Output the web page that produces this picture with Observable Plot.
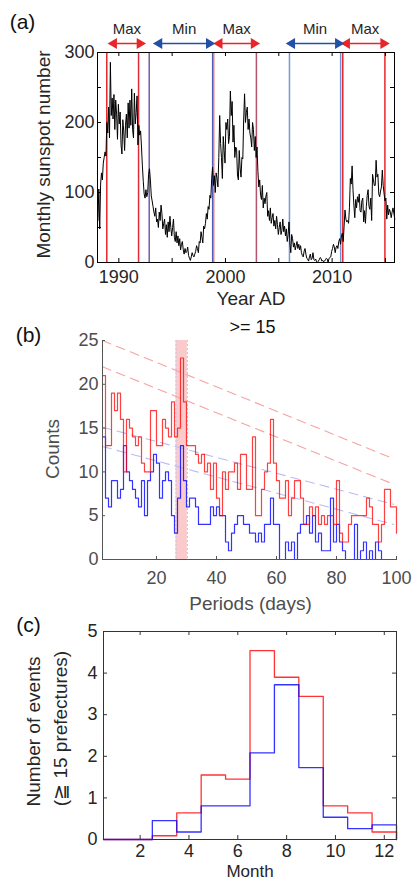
<!DOCTYPE html>
<html><head><meta charset="utf-8">
<script src="https://cdn.jsdelivr.net/npm/d3@7"></script>
<script src="https://cdn.jsdelivr.net/npm/@observablehq/plot@0.6"></script>
<style>
body{margin:0;background:#fff;width:418px;height:882px;overflow:hidden;position:relative}
.panel{position:absolute;left:0;width:418px}
.panel svg{overflow:visible;display:block}
</style></head><body>
<div id="pa" class="panel" style="top:0px"></div>
<div id="pb" class="panel" style="top:312px"></div>
<div id="pc" class="panel" style="top:612px"></div>
<script>
// ---------------- DATA ----------------
// (a) monthly sunspot number, Jan 1988 onward
const startYear = 1988;
const monthlySunspot = [
  60,105,48,112,128,118,142,150,158,152,200,185,      // 1988
  222,178,286,210,235,205,240,190,232,212,176,226,    // 1989
  198,215,168,155,204,188,160,196,212,178,228,192,    // 1990
  232,196,248,190,178,242,198,214,238,168,196,182,    // 1991
  188,165,138,116,98,92,104,94,100,126,134,118,       // 1992
  95,88,80,72,66,78,58,62,50,72,60,82,                // 1993
  70,48,56,62,40,54,36,58,44,66,50,38,                // 1994
  50,62,36,30,44,28,38,24,34,18,26,30,                // 1995
  18,12,20,14,16,22,10,6,3,8,14,10,                   // 1996
  8,12,16,24,20,14,30,28,44,36,28,52,                 // 1997
  48,56,70,62,80,76,96,92,120,136,110,124,            // 1998
  100,128,120,108,150,210,170,150,120,180,160,142,    // 1999
  200,190,205,170,180,245,210,230,172,196,150,165,    // 2000
  162,125,118,160,135,122,150,148,205,241,200,214,    // 2001
  222,190,205,185,178,165,200,190,160,180,150,165,    // 2002
  130,108,118,96,90,110,78,92,84,95,100,66,           // 2003
  74,60,78,56,64,70,52,60,48,66,54,40,                // 2004
  50,58,40,46,62,44,52,38,48,30,40,58,                // 2005
  28,14,40,34,22,28,18,24,30,20,26,18,                // 2006
  24,14,10,8,16,20,12,6,5,2,8,12,                     // 2007
  4,6,14,4,3,5,1,0,2,4,7,6,                           // 2008
  2,3,1,2,4,6,5,0,6,7,8,16,                           // 2009
  20,26,22,14,22,24,20,30,34,26,38,42,                // 2010
  30,52,75,62,58,60,56,78,120,112,138,104,            // 2011
  82,64,90,78,94,86,98,74,72,88,92,58,                // 2012
  74,56,80,96,104,80,76,92,60,126,118,110,            // 2013
  110,146,122,126,98,94,102,108,132,110,98,88,        // 2014
  92,62,82,68,76,72,64,72,78,70,62                    // 2015
];
const boundaryYears = [1988.87, 1991.85, 1992.85, 1998.80, 1998.90, 2002.90, 2006.00, 2010.80, 2011.00, 2014.95];
const phaseLabels = ["Max", "Min", "Max", "Min", "Max"];
const phaseStart  = [1989.25, 1993.50, 1999.15, 2005.95, 2011.10];
const phaseEnd    = [1992.25, 1998.75, 2002.95, 2010.85, 2015.10];
const yearTicks = [1990, 1995, 2000, 2005, 2010, 2015];
const yearLabels = [1990, 2000, 2010];
const sunTicks = [0, 50, 100, 150, 200, 250, 300];
const sunLabels = [0, 100, 200, 300];

// (b) period histogram counts (periods 2..100 days)
const periods = d3.range(2, 101);
const countsRed = [
  21,13,13,19,17,19,16,10,16,15,14,13,14,11,10,10,17,17,13,        // 2-20
  13,16,15,14,18,14,15,23,18,13,13,13,12,11,12,10,11,8,11,         // 21-39
  7,5,10,8,10,10,11,8,12,12,8,8,14,5,5,8,10,11,16,11,              // 40-59
  9,7,7,9,5,7,9,9,7,4,4,6,5,6,4,5,4,5,5,4,                        // 60-79
  9,3,2,2,4,5,5,5,5,5,7,6,4,4,2,4,8,8,6,6,3                       // 80-100
];
const countsBlue = [
  14,7,6,9,9,7,8,13,10,9,8,7,6,9,5,9,10,12,11,                    // 2-20
  7,9,10,9,5,3,7,13,9,6,7,7,6,4,4,4,4,6,5,                         // 21-39
  6,5,5,2,1,3,4,5,5,4,4,3,3,2,3,2,4,4,7,4,                         // 40-59
  4,0,0,2,1,2,0,3,4,4,5,3,5,2,3,1,1,1,7,2,                         // 60-79
  4,2,1,0,0,0,4,0,1,2,0,1,0,2,1,0,0,0,0,0,0                        // 80-100
];
const periodTicks = [20, 40, 60, 80, 100];
const countTicks = [0, 5, 10, 15, 20, 25];
const band = [26.5, 30.3];
const sigRedHigh  = [25.0, 11.5];   // at periods 2 and 99
const sigRedLow   = [22.0, 8.6];
const sigBlueHigh = [15.1, 6.3];
const sigBlueLow  = [12.9, 4.0];
const sigPeriods  = [2, 99];

// (c) monthly number of events (>= 15 prefectures)
const months = d3.range(1, 13);
const eventsRed  = [0, 0, 0.09, 0.64, 1.55, 1.45, 4.54, 3.90, 3.44, 0.81, 0.64, 0.18];
const eventsBlue = [0, 0, 0.455, 0.18, 0.81, 0.81, 2.08, 3.72, 1.73, 0.535, 0.26, 0.35];
const monthTicks = [2, 4, 6, 8, 10, 12];
const eventTicks = [0, 1, 2, 3, 4, 5];

// ---------------- STYLE ----------------
const FONT = '"Liberation Sans", Arial, Helvetica, sans-serif';
const RED = "#ff0000", BLUE = "#0000ff";
const boundaryColors = ["#e8262a", "#e02a3a", "#7a5aa6", "#4e5bb0", "#e87a86", "#b4546c", "#7499d8", "#7096d6", "#e8262a", "#e8262a"];
const phaseColor = l => l === "Max" ? "#e8262a" : "#2350a6";
const T = {textAnchor: "middle", lineAnchor: "middle"};
const label = (s, o) => Plot.text([s], {text: d => d, ...T, ...o});

// ---------------- PANEL (a) ----------------
{
  const W = 418, H = 312, mL = 97, mR = 24, mT = 52, mB = 50;
  const fw = W - mL - mR, fh = H - mT - mB;
  const rows = monthlySunspot.map((v, i) => ({t: startYear + (i + 0.5) / 12, v}));
  const bounds = boundaryYears.map((x, i) => ({x, c: boundaryColors[i]}));
  const phases = phaseLabels.map((label, i) => ({label, s: phaseStart[i], e: phaseEnd[i]}));
  const top = () => 300;
  const svg = Plot.plot({
    width: W, height: H, marginLeft: mL, marginRight: mR, marginTop: mT, marginBottom: mB,
    x: {domain: [1988, 2015.85]},
    y: {domain: [0, 300]},
    style: {fontFamily: FONT, fontSize: "18px", color: "#262626", background: "transparent", overflow: "visible"},
    marks: [
      Plot.ruleX(bounds, {x: "x", stroke: "c", strokeWidth: 1.5}),
      Plot.line(rows, {x: "t", y: "v", stroke: "#000", strokeWidth: 1}),
      Plot.frame({stroke: "#000", strokeWidth: 1}),
      Plot.tickX(yearTicks, {x: d => d, insetTop: fh - 4, stroke: "#000"}),
      Plot.tickX(yearTicks, {x: d => d, insetBottom: fh - 4, stroke: "#000"}),
      Plot.tickY(sunTicks, {y: d => d, insetRight: fw - 4, stroke: "#000"}),
      Plot.tickY(sunTicks, {y: d => d, insetLeft: fw - 4, stroke: "#000"}),
      Plot.axisX(yearLabels, {tickSize: 0, tickPadding: 8, tickFormat: "d", label: null, fontSize: 18}),
      Plot.axisY(sunLabels, {tickSize: 0, tickPadding: 3, tickFormat: "d", label: null, fontSize: 18}),
      // phase arrows
      Plot.link(phases, {x1: "s", x2: "e", y1: top, y2: top, dy: -9, stroke: d => phaseColor(d.label), strokeWidth: 1.4}),
      Plot.dot(phases, {x: "s", y: top, dy: -9, dx: 3, symbol: "triangle", rotate: -90, r: 4, fill: d => phaseColor(d.label), stroke: "none"}),
      Plot.dot(phases, {x: "e", y: top, dy: -9, dx: -3, symbol: "triangle", rotate: 90, r: 4, fill: d => phaseColor(d.label), stroke: "none"}),
      Plot.text(phases, {x: d => (d.s + d.e) / 2, y: top, dy: -23, text: "label", fontSize: 15, fill: "#262626"}),
      label("(a)", {frameAnchor: "top-left", dx: -75, dy: -30, fontSize: 21, fill: "#111"}),
      label("Year AD", {frameAnchor: "bottom", dx: 5, dy: 36, fontSize: 19, fill: "#262626"}),
      label("Monthly sunspot number", {frameAnchor: "left", rotate: -90, dx: -54, dy: -3, fontSize: 19, fill: "#262626"})
    ]
  });
  document.getElementById("pa").append(svg);
}

// ---------------- PANEL (b) ----------------
{
  const W = 418, H = 300, mL = 102, mR = 22, mT = 28, mB = 53;
  const fw = W - mL - mR, fh = H - mT - mB;
  const red = periods.map((p, i) => ({p, v: countsRed[i]}));
  const blue = periods.map((p, i) => ({p, v: countsBlue[i]}));
  const sig = (arr, c) => sigPeriods.map((p, i) => ({p, v: arr[i], c}));
  const sigLines = [
    sig(sigRedHigh, "#f6a3a3"), sig(sigRedLow, "#f6a3a3"),
    sig(sigBlueHigh, "#b8bdf2"), sig(sigBlueLow, "#b8bdf2")
  ];
  const svg = Plot.plot({
    width: W, height: H, marginLeft: mL, marginRight: mR, marginTop: mT, marginBottom: mB,
    x: {domain: [2, 100]},
    y: {domain: [0, 25]},
    style: {fontFamily: FONT, fontSize: "18px", color: "#4d4d4d", background: "transparent", overflow: "visible"},
    marks: [
      Plot.rect([band], {x1: d => d[0], x2: d => d[1], y1: () => 0, y2: () => 25, fill: "#fbc4c4", fillOpacity: 0.9}),
      Plot.ruleX(band, {x: d => d, stroke: "#b9c6f5", strokeDasharray: "2,2", strokeWidth: 1}),
      ...sigLines.map(l => Plot.line(l, {x: "p", y: "v", stroke: l[0].c, strokeWidth: 1.1, strokeDasharray: "9,6"})),
      Plot.line(blue, {x: "p", y: "v", curve: "step-after", stroke: BLUE, strokeWidth: 1.2, strokeOpacity: 0.8}),
      Plot.line(red, {x: "p", y: "v", curve: "step-after", stroke: RED, strokeWidth: 1.2, strokeOpacity: 0.75}),
      Plot.ruleY([0], {stroke: "#555", strokeWidth: 1}),
      Plot.ruleX([2], {stroke: "#555", strokeWidth: 1}),
      Plot.tickX(periodTicks, {x: d => d, insetTop: fh - 3, stroke: "#555"}),
      Plot.tickY(countTicks, {y: d => d, insetRight: fw - 3, stroke: "#555"}),
      Plot.axisX(periodTicks, {tickSize: 0, tickPadding: 12, tickFormat: "d", label: null, fontSize: 18}),
      Plot.axisY(countTicks, {tickSize: 0, tickPadding: 4, tickFormat: "d", label: null, fontSize: 18}),
      label("(b)", {frameAnchor: "top-left", dx: -74, dy: -5, fontSize: 21, fill: "#111"}),
      label(">= 15", {frameAnchor: "top", dx: 3, dy: -13, fontSize: 18, fill: "#111"}),
      label("Periods (days)", {frameAnchor: "bottom", dx: 1, dy: 44, fontSize: 19, fill: "#4d4d4d"}),
      label("Counts", {frameAnchor: "left", rotate: -90, dx: -50, dy: -1, fontSize: 19, fill: "#4d4d4d"})
    ]
  });
  document.getElementById("pb").append(svg);
}

// ---------------- PANEL (c) ----------------
{
  const W = 418, H = 270, mL = 103, mR = 22, mT = 19, mB = 43;
  const fw = W - mL - mR, fh = H - mT - mB;
  const steps = vals => [
    ...months.map((m, i) => ({m: m - 0.5, v: vals[i]})),
    {m: months[months.length - 1] + 0.5, v: vals[vals.length - 1]},
    {m: months[months.length - 1] + 0.5, v: 0}
  ];
  const svg = Plot.plot({
    width: W, height: H, marginLeft: mL, marginRight: mR, marginTop: mT, marginBottom: mB,
    x: {domain: [0.5, 12.5]},
    y: {domain: [0, 5]},
    style: {fontFamily: FONT, fontSize: "18px", color: "#262626", background: "transparent", overflow: "visible"},
    marks: [
      Plot.line(steps(eventsRed), {x: "m", y: "v", curve: "step-after", stroke: RED, strokeWidth: 1.3, strokeOpacity: 0.8}),
      Plot.line(steps(eventsBlue), {x: "m", y: "v", curve: "step-after", stroke: BLUE, strokeWidth: 1.3, strokeOpacity: 0.8}),
      Plot.frame({stroke: "#333", strokeWidth: 1}),
      Plot.tickX(monthTicks, {x: d => d, insetTop: fh - 4, stroke: "#333"}),
      Plot.tickX(monthTicks, {x: d => d, insetBottom: fh - 4, stroke: "#333"}),
      Plot.tickY(eventTicks, {y: d => d, insetRight: fw - 4, stroke: "#333"}),
      Plot.tickY(eventTicks, {y: d => d, insetLeft: fw - 4, stroke: "#333"}),
      Plot.axisX(monthTicks, {tickSize: 0, tickPadding: 5, tickFormat: "d", label: null, fontSize: 18}),
      Plot.axisY(eventTicks, {tickSize: 0, tickPadding: 6, tickFormat: "d", label: null, fontSize: 18}),
      label("(c)", {frameAnchor: "top-left", dx: -75, dy: -6, fontSize: 21, fill: "#111"}),
      label("Month", {frameAnchor: "bottom", dx: 0, dy: 32, fontSize: 17, fill: "#262626"}),
      label("Number of events", {frameAnchor: "left", rotate: -90, dx: -70, dy: -4, fontSize: 19, fill: "#262626"}),
      label("(≧ 15 prefectures)", {frameAnchor: "left", rotate: -90, dx: -43, dy: -7, fontSize: 19, fill: "#262626"})
    ]
  });
  document.getElementById("pc").append(svg);
}
</script></body></html>
